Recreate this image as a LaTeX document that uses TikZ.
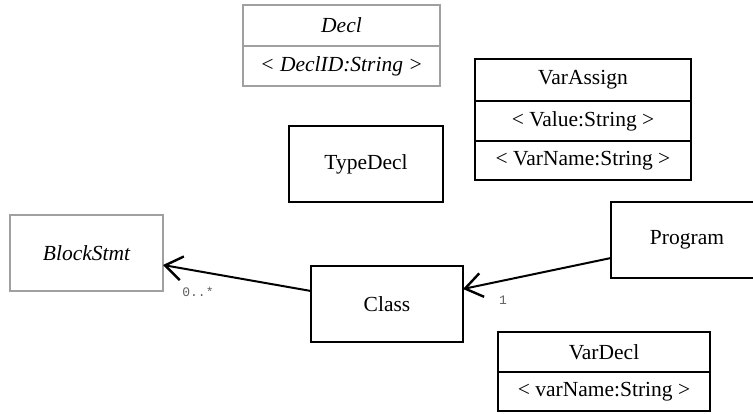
\documentclass[tikz,border=0pt]{standalone}
\usepackage{fontspec}
\setmainfont{Liberation Serif}
\setmonofont{Liberation Mono}
\usetikzlibrary{positioning,arrows.meta}

\definecolor{absgray}{RGB}{160,160,160}
\definecolor{multgray}{RGB}{95,95,95}

\tikzset{
  umlbox/.style={draw, line width=1.8pt, inner sep=0pt, outer sep=0pt,
    font=\fontsize{21.5}{25}\selectfont},
  absbox/.style={umlbox, draw=absgray, font=\fontsize{21.5}{25}\selectfont\itshape},
  assoc/.style={line width=2pt, -{Straight Barb[length=17pt,width=24pt,line width=2.4pt]}},
  mult/.style={text=multgray, font=\ttfamily\fontsize{13}{15}\selectfont, inner sep=0pt}
}

\begin{document}
\begin{tikzpicture}[x=1pt,y=-1pt]
  \clip (0,0) rectangle (753,414);

  % abstract classes
  \node[absbox, minimum width=197pt, minimum height=41pt] (decl) at (341.5,25.5) {Decl};
  \node[absbox, minimum width=197pt, minimum height=40pt, below=0pt of decl] (declid) {< DeclID:String >};
  \node[absbox, minimum width=153pt, minimum height=76pt] (blockstmt) at (86.5,253) {BlockStmt};

  % plain classes
  \node[umlbox, minimum width=154pt, minimum height=76pt] (typedecl) at (366,164) {TypeDecl};
  \node[umlbox, minimum width=152pt, minimum height=76pt] (program) at (687,240) {Program};
  \node[umlbox, minimum width=152pt, minimum height=76pt] (class) at (387,304) {Class};

  \node[umlbox, minimum width=216pt, minimum height=42pt] (varassign) at (583,80) {VarAssign};
  \node[umlbox, minimum width=216pt, minimum height=40pt, below=0pt of varassign] (value) {< Value:String >};
  \node[umlbox, minimum width=216pt, minimum height=39pt, below=0pt of value] (varname) {< VarName:String >};

  \node[umlbox, minimum width=212pt, minimum height=40pt] (vardecl) at (604,352) {VarDecl};
  \node[umlbox, minimum width=212pt, minimum height=39pt, below=0pt of vardecl] (vdname) {< varName:String >};

  % associations
  \draw[assoc] ([yshift=13pt]class.west) -- ([yshift=-12pt]blockstmt.east);
  \node[mult] (mblock) at ([xshift=35pt,yshift=-39pt]blockstmt.east) {0..*};

  \draw[assoc] ([yshift=-18pt]program.west) -- ([yshift=15pt]class.east);
  \node[mult] (mclass) at ([xshift=40pt,yshift=4pt]class.east) {1};
\end{tikzpicture}
\end{document}
